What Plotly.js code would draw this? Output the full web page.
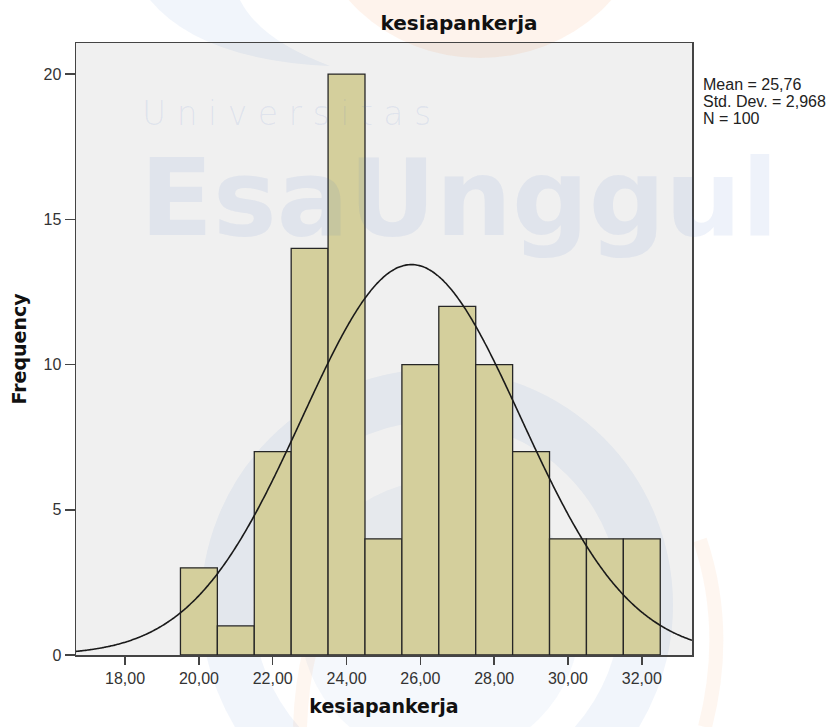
<!DOCTYPE html>
<html>
<head>
<meta charset="utf-8">
<script src="https://cdn.plot.ly/plotly-3.0.1.min.js"></script>
<style>
  html, body { margin: 0; padding: 0; background: #ffffff; }
  #chart { width: 831px; height: 727px; }
</style>
</head>
<body>
<div id="chart"></div>
<script>
// ---- data ----
const binCenters   = [20, 21, 22, 23, 24, 25, 26, 27, 28, 29, 30, 31, 32];
const frequencies  = [3, 1, 7, 14, 20, 4, 10, 12, 10, 7, 4, 4, 4];
const xTickValues  = [18, 20, 22, 24, 26, 28, 30, 32];
const xTickLabels  = ['18,00', '20,00', '22,00', '24,00', '26,00', '28,00', '30,00', '32,00'];
const yTickValues  = [0, 5, 10, 15, 20];
const yTickLabels  = ['0', '5', '10', '15', '20'];
const statLabels   = ['Mean = 25,76', 'Std. Dev. = 2,968', 'N = 100'];
const meanValue    = 25.76;
const stdDevValue  = 2.968;
const sampleSize   = 100;
const binWidth     = 1;
const chartTitle   = 'kesiapankerja';
const xTitle       = 'kesiapankerja';
const yTitle       = 'Frequency';
const watermarkTop = 'U n i v e r s i t a s';
const watermarkMain = 'EsaUnggul';

// ---- axis ranges (layout) ----
const xRange = [16.67, 33.36];
const yRange = [0, 21.07];

// fitted normal curve from the reported mean / std. dev. / N
const curveX = [];
const curveY = [];
const peak = sampleSize * binWidth / (stdDevValue * Math.sqrt(2 * Math.PI));
for (let i = 0; i <= 400; i++) {
  const x = xRange[0] + (xRange[1] - xRange[0]) * i / 400;
  const z = (x - meanValue) / stdDevValue;
  curveX.push(x);
  curveY.push(peak * Math.exp(-0.5 * z * z));
}

const bars = {
  type: 'bar',
  x: binCenters,
  y: frequencies,
  width: binWidth,
  marker: { color: '#d4cf9c', line: { color: '#262626', width: 1.3 } },
  hoverinfo: 'x+y'
};

const curve = {
  type: 'scatter',
  mode: 'lines',
  x: curveX,
  y: curveY,
  line: { color: '#1a1a1a', width: 1.6, shape: 'spline' },
  hoverinfo: 'skip'
};

// plot area in pixels: left 76, right 692, top 43, bottom 655
const ML = 76, MR = 831 - 692, MT = 43, MB = 727 - 655;
const PW = 616, PH = 612;
const px = v => (v - ML) / PW;
const py = v => (655 - v) / PH;

const statAnnotations = statLabels.map((t, i) => ({
  text: t,
  xref: 'paper', yref: 'paper',
  x: px(701), y: py(85 + i * 16.5),
  xanchor: 'left', yanchor: 'middle',
  showarrow: false,
  font: { family: 'Liberation Sans, Arial, sans-serif', size: 16, color: '#222222' }
}));

const watermarkAnnotations = [
  {
    text: watermarkTop,
    xref: 'paper', yref: 'paper',
    x: px(140), y: py(113),
    xanchor: 'left', yanchor: 'middle', showarrow: false,
    font: { family: 'DejaVu Sans, sans-serif', size: 33, weight: 200, color: 'rgba(60,110,200,0.10)' }
  },
  {
    text: watermarkMain,
    xref: 'paper', yref: 'paper',
    x: px(138), y: py(198),
    xanchor: 'left', yanchor: 'middle', showarrow: false,
    font: { family: 'DejaVu Sans, sans-serif', size: 107, weight: 'bold', color: 'rgba(60,110,200,0.085)' }
  }
];

const shapes = [
  // plot background
  { type: 'rect', xref: 'paper', yref: 'paper', x0: 0, x1: 1, y0: 0, y1: 1,
    fillcolor: '#f0f0f0', line: { width: 0 }, layer: 'below' },
  // faint logo watermark: orange top blob
  { type: 'circle', xref: 'paper', yref: 'paper',
    x0: px(310), x1: px(650), y0: py(58), y1: py(-260),
    fillcolor: 'rgba(245,140,70,0.10)', line: { width: 0 }, layer: 'below' },
  // blue crescent top left
  { type: 'path', xref: 'paper', yref: 'paper',
    path: `M${px(150)},${py(0)} Q${px(200)},${py(60)} ${px(330)},${py(66)} Q${px(260)},${py(40)} ${px(240)},${py(0)} Z`,
    fillcolor: 'rgba(60,110,200,0.07)', line: { width: 0 }, layer: 'below' },
  // blue ring lower centre
  { type: 'circle', xref: 'paper', yref: 'paper',
    x0: px(437 - 210), x1: px(437 + 210), y0: py(605 + 210), y1: py(605 - 210),
    fillcolor: 'rgba(0,0,0,0)', line: { width: 52, color: 'rgba(60,110,200,0.07)' }, layer: 'below' },
  // inner blue disc
  { type: 'circle', xref: 'paper', yref: 'paper',
    x0: px(440 - 140), x1: px(440 + 140), y0: py(620 + 140), y1: py(620 - 140),
    fillcolor: 'rgba(60,110,200,0.05)', line: { width: 0 }, layer: 'below' },
  // orange arcs
  { type: 'path', xref: 'paper', yref: 'paper',
    path: `M${px(700)},${py(540)} Q${px(730)},${py(630)} ${px(705)},${py(727)}`,
    line: { width: 14, color: 'rgba(245,140,70,0.08)' }, layer: 'below' },
  { type: 'path', xref: 'paper', yref: 'paper',
    path: `M${px(335)},${py(590)} Q${px(303)},${py(640)} ${px(300)},${py(727)}`,
    line: { width: 14, color: 'rgba(245,140,70,0.08)' }, layer: 'below' }
];

const tickFont = { family: 'Liberation Sans, Arial, sans-serif', size: 16, color: '#333333' };
const axisTitleFont = { family: 'DejaVu Sans, Verdana, sans-serif', size: 19, weight: 'bold', color: '#111111' };
const mainTitleFont = { family: 'DejaVu Sans, Verdana, sans-serif', size: 20, weight: 'bold', color: '#111111' };

const layout = {
  width: 831,
  height: 727,
  margin: { l: ML, r: MR, t: MT, b: MB, pad: 0 },
  paper_bgcolor: '#ffffff',
  plot_bgcolor: 'rgba(0,0,0,0)',
  showlegend: false,
  bargap: 0,
  title: {
    text: chartTitle,
    xref: 'container', yref: 'container',
    x: 459 / 831, y: 1 - 23 / 727,
    xanchor: 'center', yanchor: 'middle',
    font: mainTitleFont
  },
  xaxis: {
    range: xRange,
    tickvals: xTickValues,
    ticktext: xTickLabels,
    ticks: 'outside', ticklen: 8, tickwidth: 1.5, tickcolor: '#444444',
    showline: true, linecolor: '#444444', linewidth: 1.5, mirror: true,
    showgrid: false, zeroline: false,
    tickfont: tickFont,
    title: { text: xTitle, font: axisTitleFont, standoff: 14 },
    automargin: false
  },
  yaxis: {
    range: yRange,
    tickvals: yTickValues,
    ticktext: yTickLabels,
    ticks: 'outside', ticklen: 10, tickwidth: 1.5, tickcolor: '#444444',
    showline: true, linecolor: '#444444', linewidth: 1.5, mirror: true,
    showgrid: false, zeroline: false,
    tickfont: tickFont,
    title: { text: yTitle, font: axisTitleFont, standoff: 12 },
    automargin: false
  },
  shapes: shapes,
  annotations: statAnnotations.concat(watermarkAnnotations)
};

Plotly.newPlot('chart', [bars, curve], layout, { displayModeBar: false, staticPlot: true });
</script>
</body>
</html>
